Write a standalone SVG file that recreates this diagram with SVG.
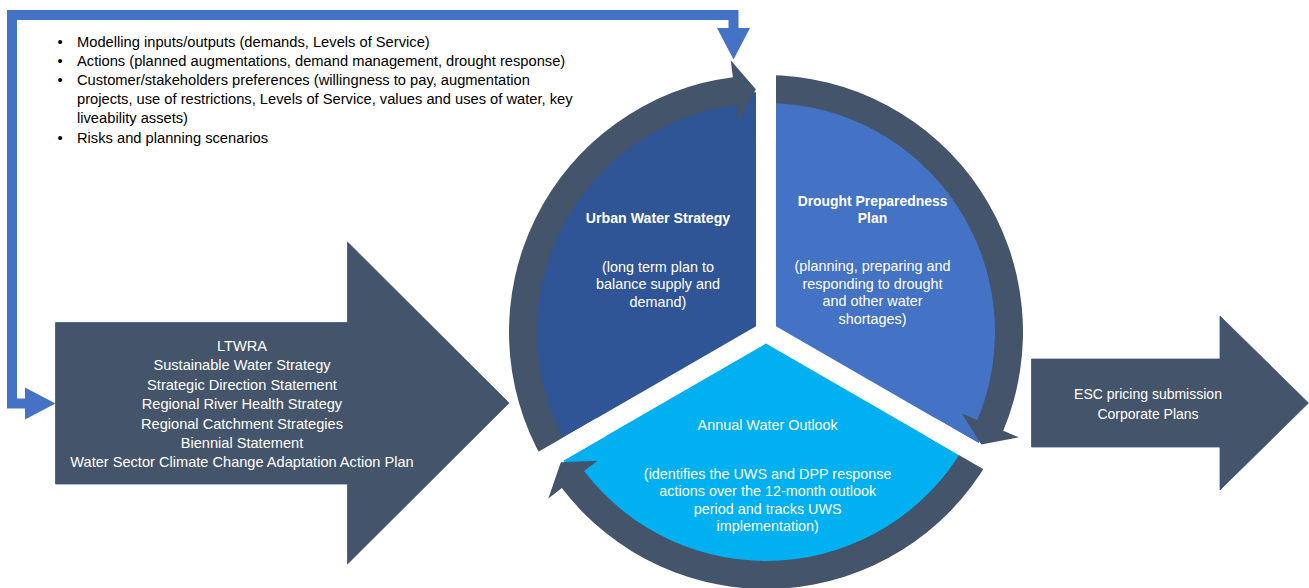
<svg xmlns="http://www.w3.org/2000/svg" width="1309" height="588" viewBox="0 0 1309 588">
<style>
  .t { font-family: "Liberation Sans", Arial, sans-serif; }
  .w { fill: #FFFFFF; text-anchor: middle; }
  .b { fill: #000000; font-size: 14.7px; }
  .slate { fill: #44546A; }
  .gap { stroke: #FFFFFF; stroke-width: 20; stroke-linecap: butt; }
  .blue { fill: #4472C4; }
</style>
<rect x="0" y="0" width="1309" height="588" fill="#FFFFFF"/>

<!-- bullet notes -->
<g id="node-notes" class="t b">
  <text x="57.5" y="46.5">•</text><text x="77" y="46.5">Modelling inputs/outputs (demands, Levels of Service)</text>
  <text x="57.5" y="65.7">•</text><text x="77" y="65.7">Actions (planned augmentations, demand management, drought response)</text>
  <text x="57.5" y="84.9">•</text><text x="77" y="84.9">Customer/stakeholders preferences (willingness to pay, augmentation</text>
  <text x="77" y="104.1">projects, use of restrictions, Levels of Service, values and uses of water, key</text>
  <text x="77" y="123.3">liveability assets)</text>
  <text x="57.5" y="142.5">•</text><text x="77" y="142.5">Risks and planning scenarios</text>
</g>

<!-- left input arrow -->
<g id="node-inputs">
  <polygon class="slate" stroke="#2F528F" stroke-width="0.75" points="55.5,322.5 347.5,322.5 347.5,242 509,403 347.5,564 347.5,484 55.5,484"/>
  <g class="t w" font-size="14.6">
    <text x="242" y="351">LTWRA</text>
    <text x="242" y="370.4">Sustainable Water Strategy</text>
    <text x="242" y="389.8">Strategic Direction Statement</text>
    <text x="242" y="409.2">Regional River Health Strategy</text>
    <text x="242" y="428.6">Regional Catchment Strategies</text>
    <text x="242" y="448">Biennial Statement</text>
    <text x="242" y="467.4">Water Sector Climate Change Adaptation Action Plan</text>
  </g>
</g>

<!-- right output arrow -->
<g id="node-outputs">
  <polygon class="slate" stroke="#2F528F" stroke-width="0.75" points="1031.5,359 1220,359 1220,316 1308.5,403 1220,490 1220,447 1031.5,447"/>
  <g class="t w" font-size="14">
    <text x="1148" y="398.5">ESC pricing submission</text>
    <text x="1148" y="418.5">Corporate Plans</text>
  </g>
</g>

<!-- cycle sectors -->
<g id="node-uws">
  <path fill="#2F5597" d="M 756.04 326.25 L 553.39 443.25 A 234 234 0 0 1 756.04 92.25 Z"/>
</g>
<g id="node-dpp">
  <path fill="#4472C4" d="M 775.96 326.25 L 775.96 92.25 A 234 234 0 0 1 978.61 443.25 Z"/>
</g>
<g id="node-awo">
  <path fill="#00B0F0" d="M 766 343.5 L 968.65 460.5 A 234 234 0 0 1 563.35 460.5 Z"/>
</g>

<!-- connectors: cycle arrows and feedback loop -->
<g id="connectors">
  <path class="slate" d="M 543.43 460.5 A 257 257 0 0 1 732.90 77.14 L 730.71 60.28 L 755.82 89.21 L 738.69 121.77 L 736.50 104.91 A 229 229 0 0 0 567.68 446.5 Z"/>
  <path class="slate" d="M 766 75 A 257 257 0 0 1 1003.26 430.77 L 1018.96 437.30 L 981.35 444.58 L 961.72 413.47 L 977.42 420.00 A 229 229 0 0 0 766 103 Z"/>
  <path class="slate" d="M 988.57 460.5 A 257 257 0 0 1 561.84 488.10 L 548.33 498.42 L 560.83 462.21 L 597.59 460.76 L 584.08 471.09 A 229 229 0 0 0 964.32 446.5 Z"/>
  <line class="gap" x1="766" y1="142" x2="766" y2="67"/>
  <line class="gap" x1="930.5" y1="427" x2="995.5" y2="464.5"/>
  <line class="gap" x1="601.5" y1="427" x2="536.5" y2="464.5"/>
  <path d="M 733.5 29 V 15 H 12 V 403.5 H 26" fill="none" stroke="#4472C4" stroke-width="10" stroke-linejoin="miter"/>
  <polygon class="blue" points="717,28 750,28 733.5,59.5"/>
  <polygon class="blue" points="25,387.5 25,419.5 55.5,403.5"/>
</g>

<!-- cycle labels -->
<g id="label-uws" class="t w" font-size="14.4">
  <text x="658" y="222.5" font-weight="bold" font-size="14.2">Urban Water Strategy</text>
  <text x="658" y="271.5">(long term plan to</text>
  <text x="658" y="289">balance supply and</text>
  <text x="658" y="306.5">demand)</text>
</g>
<g id="label-dpp" class="t w" font-size="14.4">
  <text x="872.5" y="205.5" font-weight="bold" font-size="13.9">Drought Preparedness</text>
  <text x="872.5" y="222.5" font-weight="bold" font-size="13.9">Plan</text>
  <text x="872.5" y="271">(planning, preparing and</text>
  <text x="872.5" y="288.5">responding to drought</text>
  <text x="872.5" y="306">and other water</text>
  <text x="872.5" y="323.5">shortages)</text>
</g>
<g id="label-awo" class="t w" font-size="14.4">
  <text x="767.7" y="430">Annual Water Outlook</text>
  <text x="767.7" y="478.5">(identifies the UWS and DPP response</text>
  <text x="767.7" y="496">actions over the 12-month outlook</text>
  <text x="767.7" y="513.5">period and tracks UWS</text>
  <text x="767.7" y="531">implementation)</text>
</g>
</svg>
